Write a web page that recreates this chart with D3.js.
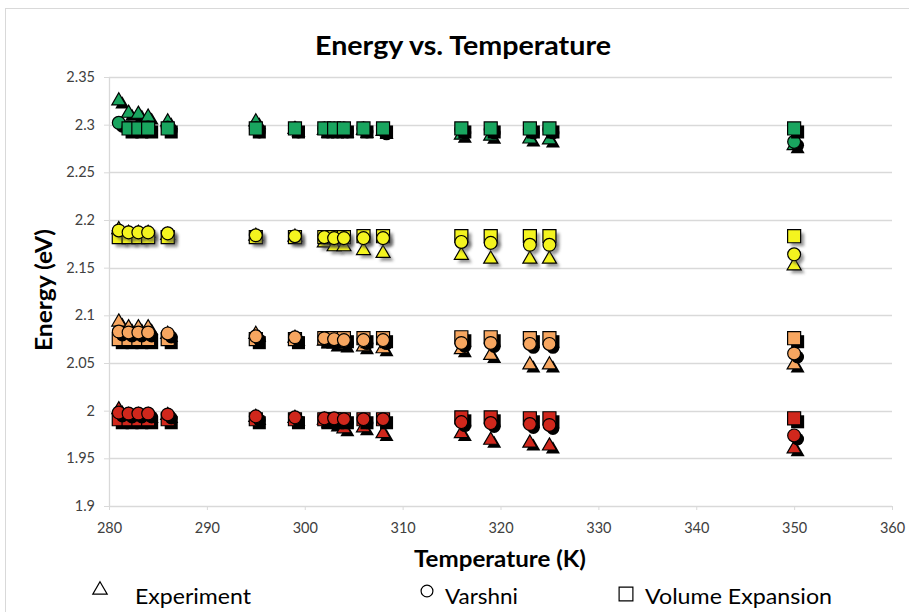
<!DOCTYPE html>
<html>
<head>
<meta charset="utf-8">
<script src="https://cdn.jsdelivr.net/npm/d3@7"></script>
<style>
  html, body { margin: 0; padding: 0; background: #fff; }
  svg { display: block; font-family: Lato, "Open Sans", sans-serif; }
</style>
</head>
<body>
<svg id="chart" width="909" height="612"></svg>
<script>
// 温度 (K)
var temps = [281, 282, 283, 284, 286, 295, 299, 302, 303, 304, 306, 308, 316, 319, 323, 325, 350]

// 绿色
var greenExp = [2.325, 2.312, 2.311, 2.308, 2.303, 2.303, 2.295, 2.294, 2.294, 2.294, 2.294, 2.293, 2.289, 2.288, 2.285, 2.284, 2.278]
var greenVar = [2.302, 2.297, 2.297, 2.297, 2.297, 2.296, 2.296, 2.296, 2.296, 2.296, 2.296, 2.294, 2.295, 2.295, 2.295, 2.295, 2.282]
var greenVol = [null, 2.296, 2.296, 2.296, 2.296, 2.296, 2.296, 2.296, 2.296, 2.296, 2.296, 2.296, 2.296, 2.296, 2.296, 2.296, 2.296]

// 黄色
var yellowExp = [2.190, 2.186, 2.186, 2.186, 2.184, 2.183, 2.182, 2.176, 2.172, 2.172, 2.168, 2.165, 2.163, 2.159, 2.159, 2.159, 2.152]
var yellowVar = [2.189, 2.187, 2.187, 2.187, 2.186, 2.184, 2.183, 2.182, 2.181, 2.181, 2.181, 2.181, 2.177, 2.176, 2.174, 2.174, 2.164]
var yellowVol = [2.182, 2.182, 2.182, 2.182, 2.182, 2.182, 2.182, 2.182, 2.182, 2.182, 2.183, 2.183, 2.183, 2.183, 2.183, 2.183, 2.183]

// 橙色
var orangeExp = [2.093, 2.087, 2.087, 2.087, 2.080, 2.080, 2.076, 2.073, 2.070, 2.069, 2.067, 2.065, 2.064, 2.058, 2.048, 2.048, 2.048]
var orangeVar = [2.083, 2.082, 2.082, 2.082, 2.081, 2.078, 2.077, 2.076, 2.075, 2.074, 2.074, 2.074, 2.071, 2.071, 2.070, 2.070, 2.060]
var orangeVol = [2.075, 2.075, 2.075, 2.075, 2.075, 2.075, 2.075, 2.076, 2.076, 2.076, 2.076, 2.076, 2.077, 2.077, 2.076, 2.076, 2.076]

// 红色
var redExp = [2.001, 1.995, 1.995, 1.995, 1.995, 1.993, 1.992, 1.990, 1.986, 1.981, 1.982, 1.976, 1.976, 1.969, 1.966, 1.963, 1.960]
var redVar = [1.998, 1.997, 1.997, 1.997, 1.996, 1.994, 1.993, 1.992, 1.992, 1.991, 1.991, 1.991, 1.988, 1.987, 1.986, 1.985, 1.974]
var redVol = [1.991, 1.991, 1.991, 1.991, 1.991, 1.991, 1.991, 1.991, 1.991, 1.991, 1.991, 1.991, 1.993, 1.993, 1.992, 1.992, 1.992]

// 刻度
var xTicks = [280, 290, 300, 310, 320, 330, 340, 350, 360]
var yTicks = [1.9, 1.95, 2, 2.05, 2.1, 2.15, 2.2, 2.25, 2.3, 2.35]

var legendNames = ["Experiment", "Varshni", "Volume Expansion"]

var colors = { green: "#19a55f", yellow: "#f4f41f", orange: "#f7a660", red: "#d0271c" }

// 绘制顺序（绿色的圆被方块盖住）
var series = [
  { color: "green", shape: "triangle", values: greenExp },
  { color: "green", shape: "circle", values: greenVar },
  { color: "green", shape: "square", values: greenVol },
  { color: "yellow", shape: "triangle", values: yellowExp },
  { color: "yellow", shape: "square", values: yellowVol },
  { color: "yellow", shape: "circle", values: yellowVar },
  { color: "orange", shape: "triangle", values: orangeExp },
  { color: "orange", shape: "square", values: orangeVol },
  { color: "orange", shape: "circle", values: orangeVar },
  { color: "red", shape: "triangle", values: redExp },
  { color: "red", shape: "square", values: redVol },
  { color: "red", shape: "circle", values: redVar }
]

var svg = d3.select("#chart")

var x = d3.scaleLinear().domain([280, 360]).range([109, 892])
var y = d3.scaleLinear().domain([1.9, 2.35]).range([506, 77])

var symbolOf = {
  triangle: d3.symbol().type(d3.symbolTriangle).size(85),
  square: d3.symbol().type(d3.symbolSquare).size(170),
  circle: d3.symbol().type(d3.symbolCircle).size(130)
}

var defs = svg.append("defs")
defs.append("filter").attr("id", "soft")
    .attr("x", "-50%").attr("y", "-50%").attr("width", "200%").attr("height", "200%")
    .append("feGaussianBlur").attr("stdDeviation", 0.7)
defs.append("filter").attr("id", "softer")
    .attr("x", "-50%").attr("y", "-50%").attr("width", "200%").attr("height", "200%")
    .append("feGaussianBlur").attr("stdDeviation", 1.6)

// 图表外框
svg.append("rect")
   .attr("x", 5.5).attr("y", 8.5)
   .attr("width", 920).attr("height", 640)
   .attr("fill", "none")
   .attr("stroke", "#d9d9d9")

// 网格线
svg.append("g")
   .selectAll("line")
   .data(yTicks)
   .join("line")
   .attr("x1", x(280)).attr("x2", x(360))
   .attr("y1", d => Math.round(y(d)) + 0.5).attr("y2", d => Math.round(y(d)) + 0.5)
   .attr("stroke", "#d9d9d9")
   .attr("stroke-width", 1.3)

// 纵轴线
svg.append("line")
   .attr("x1", x(280) + 0.5).attr("x2", x(280) + 0.5)
   .attr("y1", y(2.35)).attr("y2", y(1.9))
   .attr("stroke", "#d9d9d9")
   .attr("stroke-width", 1.3)

// 坐标轴
var yAxis = svg.append("g")
   .attr("transform", "translate(" + x(280) + ",0)")
   .call(d3.axisLeft(y).tickValues(yTicks).tickSize(5).tickPadding(9).tickFormat(d3.format("")))
yAxis.select(".domain").remove()
yAxis.selectAll("line").attr("stroke", "#d9d9d9")
yAxis.selectAll("text").attr("font-size", 14.5).attr("fill", "#404040")
     .attr("font-family", "Lato, sans-serif")

var xAxis = svg.append("g")
   .attr("transform", "translate(0," + y(1.9) + ")")
   .call(d3.axisBottom(x).tickValues(xTicks).tickSize(4).tickPadding(13).tickFormat(d3.format("d")))
xAxis.select(".domain").remove()
xAxis.selectAll("line").attr("stroke", "#d9d9d9")
xAxis.selectAll("text").attr("font-size", 14.5).attr("fill", "#404040")
     .attr("font-family", "Lato, sans-serif")

// 数据点
var plot = svg.append("g")
series.forEach(function (s) {
  var pts = temps.map((t, i) => ({ t: t, v: s.values[i] })).filter(d => d.v != null)
  var g = plot.append("g")
  var yellow = s.color === "yellow"
  // 阴影
  g.selectAll("path.shadow")
   .data(pts)
   .join("path")
   .attr("class", "shadow")
   .attr("d", symbolOf[s.shape])
   .attr("transform", d => "translate(" + (x(d.t) + 3.5) + "," + (y(d.v) + 3.5) + ")")
   .attr("fill", yellow ? "#444" : "#000")
   .attr("opacity", yellow ? 0.55 : 1)
   .attr("filter", yellow ? "url(#softer)" : "url(#soft)")
  // 标记
  g.selectAll("path.mark")
   .data(pts)
   .join("path")
   .attr("class", "mark")
   .attr("d", symbolOf[s.shape])
   .attr("transform", d => "translate(" + x(d.t) + "," + y(d.v) + ")")
   .attr("fill", colors[s.color])
   .attr("stroke", "#000")
   .attr("stroke-width", 1.2)
})

// 标题
svg.append("text")
   .attr("x", 463).attr("y", 55)
   .attr("text-anchor", "middle")
   .attr("font-size", 26)
   .attr("font-weight", "bold")
   .attr("textLength", 296)
   .attr("lengthAdjust", "spacingAndGlyphs")
   .attr("fill", "#000")
   .text("Energy vs. Temperature")

svg.append("text")
   .attr("x", 500).attr("y", 567)
   .attr("text-anchor", "middle")
   .attr("font-size", 22)
   .attr("font-weight", "bold")
   .attr("textLength", 172)
   .attr("lengthAdjust", "spacingAndGlyphs")
   .text("Temperature (K)")

svg.append("text")
   .attr("transform", "translate(52,290) rotate(-90)")
   .attr("text-anchor", "middle")
   .attr("font-size", 22)
   .attr("font-weight", "bold")
   .attr("textLength", 122)
   .attr("lengthAdjust", "spacingAndGlyphs")
   .text("Energy (eV)")

// 图例
var legendPos = [
  { shape: "triangle", sx: 100, sy: 590, tx: 135, w: 116 },
  { shape: "circle", sx: 427, sy: 591, tx: 445, w: 73 },
  { shape: "square", sx: 626, sy: 594, tx: 645, w: 187 }
]
var legend = svg.append("g")
legend.selectAll("path")
   .data(legendPos)
   .join("path")
   .attr("d", d => d3.symbol().type(d.shape === "triangle" ? d3.symbolTriangle : d.shape === "circle" ? d3.symbolCircle : d3.symbolSquare)
                   .size(d.shape === "triangle" ? 90 : d.shape === "circle" ? 110 : 190)())
   .attr("transform", d => "translate(" + d.sx + "," + d.sy + ")")
   .attr("fill", "none")
   .attr("stroke", "#000")
   .attr("stroke-width", 1.2)
legend.selectAll("text")
   .data(legendPos)
   .join("text")
   .attr("x", d => d.tx).attr("y", 604)
   .attr("font-size", 22)
   .attr("textLength", d => d.w)
   .attr("lengthAdjust", "spacingAndGlyphs")
   .attr("fill", "#000")
   .text((d, i) => legendNames[i])
</script>
</body>
</html>
